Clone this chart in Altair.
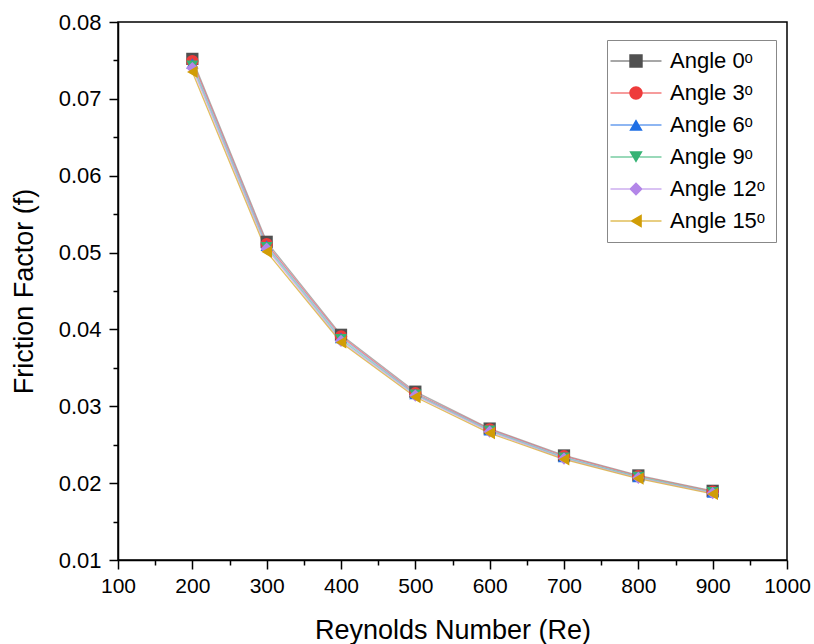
import altair as alt
import pandas as pd

reynolds = [200, 300, 400, 500, 600, 700, 800, 900]
angle_labels = ["Angle 0ᵒ", "Angle 3ᵒ", "Angle 6ᵒ", "Angle 9ᵒ", "Angle 12ᵒ", "Angle 15ᵒ"]
f_angle_0 = [0.0752, 0.0514, 0.0393, 0.0319, 0.0271, 0.0236, 0.0210, 0.0190]
f_angle_3 = [0.0749, 0.0511, 0.0391, 0.0317, 0.0270, 0.0235, 0.0209, 0.0189]
f_angle_6 = [0.0746, 0.0509, 0.0389, 0.0316, 0.0269, 0.0234, 0.0208, 0.0188]
f_angle_9 = [0.0743, 0.0507, 0.0387, 0.0315, 0.0268, 0.0233, 0.0208, 0.0188]
f_angle_12 = [0.0740, 0.0505, 0.0385, 0.0314, 0.0267, 0.0232, 0.0207, 0.0187]
f_angle_15 = [0.0735, 0.0501, 0.0383, 0.0312, 0.0265, 0.0231, 0.0206, 0.0186]

marker_colors = ["#505050", "#ee3b3b", "#1f6fe5", "#35b374", "#b386e8", "#d19d06"]
line_colors = ["#9a9a9a", "#f06a6a", "#8fb4ee", "#7fcfa6", "#c9a8ee", "#d8ae3a"]
marker_shapes = ["square", "circle", "triangle-up", "triangle-down", "diamond", "triangle-left"]

# legend symbols: same marker outline plus a thin line through it (unit coordinates)
LINE_L = "M-3.8,-0.07H-0.5V0.07H-3.8Z"
LINE_R = "M0.5,-0.07H3.8V0.07H0.5Z"
legend_paths = [
    "M-1,-1H1V1H-1Z " + LINE_L + " " + LINE_R,
    "M1,0A1,1,0,1,1,-1,0A1,1,0,1,1,1,0Z " + LINE_L + " " + LINE_R,
    "M0,-0.866L-1,0.866L1,0.866Z " + LINE_L + " " + LINE_R,
    "M0,0.866L-1,-0.866L1,-0.866Z " + LINE_L + " " + LINE_R,
    "M-1,0L0,-1L1,0L0,1Z " + LINE_L + " " + LINE_R,
    "M-0.866,0L0.866,-1L0.866,1Z " + LINE_L + " " + LINE_R,
]

x_major = [100, 200, 300, 400, 500, 600, 700, 800, 900, 1000]
x_minor = [150, 250, 350, 450, 550, 650, 750, 850, 950]
y_major = [0.01, 0.02, 0.03, 0.04, 0.05, 0.06, 0.07, 0.08]
y_minor = [0.015, 0.025, 0.035, 0.045, 0.055, 0.065, 0.075]

series = [f_angle_0, f_angle_3, f_angle_6, f_angle_9, f_angle_12, f_angle_15]
rows = []
for label, vals in zip(angle_labels, series):
    for re, f in zip(reynolds, vals):
        rows.append({"Re": re, "f": f, "Angle": label})
df = pd.DataFrame(rows)

FONT = "Liberation Sans"

xscale = alt.Scale(domain=[100, 1000], nice=False, zero=False)
yscale = alt.Scale(domain=[0.01, 0.08], nice=False, zero=False)

major_x_axis = alt.Axis(values=x_major, format="d", title="Reynolds Number (Re)", grid=False,
                        tickSize=9, labelFontSize=21, titleFontSize=27,
                        titleFontWeight="normal", labelPadding=6, titlePadding=21,
                        labelFlush=False, labelOverlap=False,
                        domainColor="black", tickColor="black", domainWidth=1.5,
                        tickWidth=1.5, labelColor="black", titleColor="black",
                        labelFont=FONT, titleFont=FONT, orient="bottom")
major_y_axis = alt.Axis(values=y_major, format=".2f", title="Friction Factor (f)",
                        grid=False, tickSize=9, labelFontSize=22, titleFontSize=27,
                        titleFontWeight="normal", labelPadding=8, titlePadding=20,
                        labelFlush=False, labelOverlap=False,
                        domainColor="black", tickColor="black", domainWidth=1.5,
                        tickWidth=1.5, labelColor="black", titleColor="black",
                        labelFont=FONT, titleFont=FONT, orient="left")

lines = alt.Chart(df).mark_line(strokeWidth=1.3, opacity=0.8).encode(
    x=alt.X("Re:Q", scale=xscale, axis=major_x_axis),
    y=alt.Y("f:Q", scale=yscale, axis=major_y_axis),
    stroke=alt.Stroke("Angle:N", sort=angle_labels,
                      scale=alt.Scale(domain=angle_labels, range=line_colors),
                      legend=None),
    detail="Angle:N",
)

points = alt.Chart(df).mark_point(filled=True, size=150, opacity=1).encode(
    x=alt.X("Re:Q", scale=xscale, axis=None),
    y=alt.Y("f:Q", scale=yscale, axis=None),
    color=alt.Color("Angle:N", sort=angle_labels,
                    scale=alt.Scale(domain=angle_labels, range=marker_colors),
                    legend=None),
    shape=alt.Shape("Angle:N", sort=angle_labels,
                    scale=alt.Scale(domain=angle_labels, range=marker_shapes),
                    legend=None),
)

legend = alt.Legend(title=None)
legend_layer = alt.Chart(df).transform_filter("false").mark_point(
    filled=True, size=180, opacity=1
).encode(
    x=alt.X("Re:Q", scale=xscale, axis=None),
    y=alt.Y("f:Q", scale=yscale, axis=None),
    color=alt.Color("Angle:N", sort=angle_labels,
                    scale=alt.Scale(domain=angle_labels, range=marker_colors),
                    legend=legend),
    shape=alt.Shape("Angle:N", sort=angle_labels,
                    scale=alt.Scale(domain=angle_labels, range=legend_paths),
                    legend=legend),
)

minor_ticks = alt.Chart(df).mark_point(opacity=0).encode(
    x=alt.X("Re:Q", scale=xscale,
            axis=alt.Axis(values=x_minor, labels=False, domain=False, grid=False,
                          tickSize=5, tickWidth=1.5, tickColor="black",
                          title=None, orient="bottom")),
    y=alt.Y("f:Q", scale=yscale,
            axis=alt.Axis(values=y_minor, labels=False, domain=False, grid=False,
                          tickSize=5, tickWidth=1.5, tickColor="black",
                          title=None, orient="left")),
)

chart = alt.layer(lines, points, legend_layer, minor_ticks).resolve_axis(
    x="independent", y="independent"
).resolve_scale(
    stroke="independent", shape="independent", color="independent"
).properties(
    width=669, height=538, autosize="none",
    padding={"left": 118, "top": 22, "right": 27, "bottom": 84},
).configure_view(
    stroke="black", strokeWidth=1.5
).configure_legend(
    orient="none", legendX=489, legendY=18,
    strokeColor="#888888", strokeWidth=1, fillColor="white",
    padding=10, labelFontSize=22, labelFont=FONT, labelColor="black",
    symbolSize=180, rowPadding=10, symbolOffset=8, labelOffset=23, symbolOpacity=1,
)

chart.save("out.html", embed_options={"renderer": "svg", "actions": False})
